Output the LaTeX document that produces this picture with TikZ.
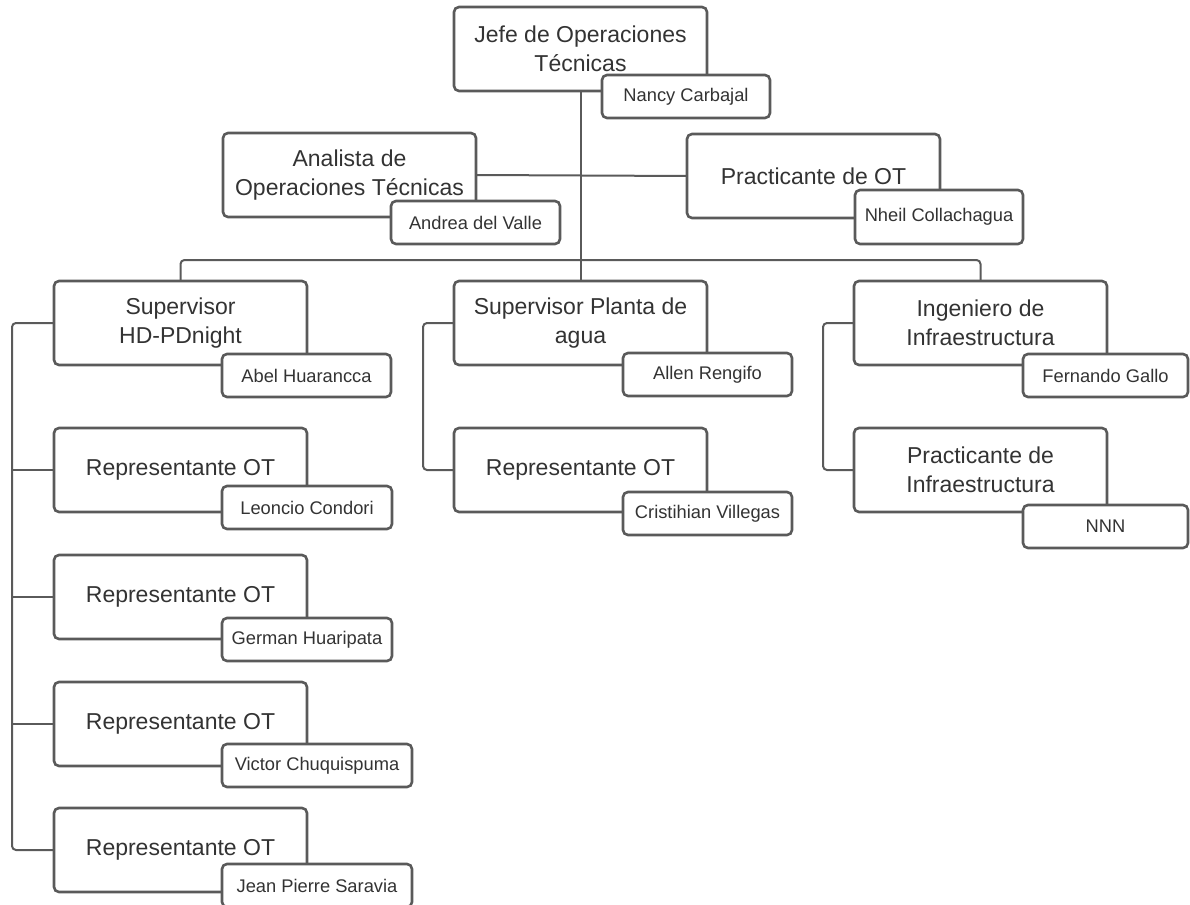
\documentclass[tikz,border=0pt]{standalone}
\usepackage{fontspec}
\setmainfont{Liberation Sans}
\usetikzlibrary{backgrounds}
\definecolor{edge}{HTML}{5A5A5A}
\definecolor{ink}{HTML}{333333}
\tikzset{
  role/.style={draw=edge, line width=2.6pt, fill=white, rounded corners=5pt,
    minimum width=253pt, minimum height=84pt, anchor=north west, outer sep=0pt,
    inner sep=0pt, align=center, text=ink, font=\fontsize{23}{29}\selectfont},
  person/.style={draw=edge, line width=2.6pt, fill=white, rounded corners=5pt,
    minimum height=43pt, anchor=north west, outer sep=0pt, inner sep=0pt,
    text=ink, font=\fontsize{18.3}{22}\selectfont},
  link/.style={draw=edge, line width=2pt, rounded corners=4pt},
}
\begin{document}
\begin{tikzpicture}[x=1pt,y=-1pt]
\useasboundingbox (0,0) rectangle (1190,904);
\clip (0,0) rectangle (1190,904);

% role boxes
\node[role] (jefe) at (454,7)   {Jefe de Operaciones\\Técnicas};
\node[role] (ana)  at (223,133) {Analista de\\Operaciones Técnicas};
\node[role] (prac) at (687,134) {Practicante de OT};
\node[role] (hd)   at (54,281)  {Supervisor\\HD-PDnight};
\node[role] (spl)  at (454,281) {Supervisor Planta de\\agua};
\node[role] (ing)  at (854,281) {Ingeniero de\\Infraestructura};
\node[role] (r1)   at (54,428)  {Representante OT};
\node[role] (r2)   at (54,555)  {Representante OT};
\node[role] (r3)   at (54,682)  {Representante OT};
\node[role] (r4)   at (54,808)  {Representante OT};
\node[role] (mr)   at (454,428) {Representante OT};
\node[role] (pinf) at (854,428) {Practicante de\\Infraestructura};

% people, overlapping the lower right corner of their role
\node[person, minimum width=168pt] (nancy) at (602,75)  {Nancy Carbajal};
\node[person, minimum width=169pt] (andrea) at (391,201) {Andrea del Valle};
\node[person, minimum width=168pt, minimum height=54pt] (nheil) at (855,190) {Nheil Collachagua};
\node[person, minimum width=169pt] (abel) at (222,354) {Abel Huarancca};
\node[person, minimum width=169pt] (allen) at (623,353) {Allen Rengifo};
\node[person, minimum width=165pt] (fern) at (1023,354) {Fernando Gallo};
\node[person, minimum width=170pt] (leon) at (222,486) {Leoncio Condori};
\node[person, minimum width=170pt] (germ) at (222,618) {German Huaripata};
\node[person, minimum width=190pt] (vict) at (222,744) {Victor Chuquispuma};
\node[person, minimum width=190pt] (jean) at (222,864) {Jean Pierre Saravia};
\node[person, minimum width=169pt] (cris) at (623,492) {Cristihian Villegas};
\node[person, minimum width=165pt] (nnn) at (1023,505) {NNN};

% connectors, behind the boxes
\coordinate (lx) at (12,0);
\coordinate (mx) at (423,0);
\coordinate (rx) at (823,0);
\coordinate (busy) at (0,260);
\begin{scope}[on background layer]
  \draw[link] (jefe.south) -- (spl.north);
  \draw[link] (ana.east) -- (prac.west);
  \draw[link] (hd.north) |- (busy -| spl.north) -| (ing.north);
  \draw[link] (hd.west) -| (lx |- r4.west) -- (r4.west);
  \foreach \r in {r1,r2,r3} \draw[link] (\r.west) -- (\r.west -| lx);
  \draw[link] (spl.west) -| (mx |- mr.west) -- (mr.west);
  \draw[link] (ing.west) -| (rx |- pinf.west) -- (pinf.west);
\end{scope}
\end{tikzpicture}
\end{document}
